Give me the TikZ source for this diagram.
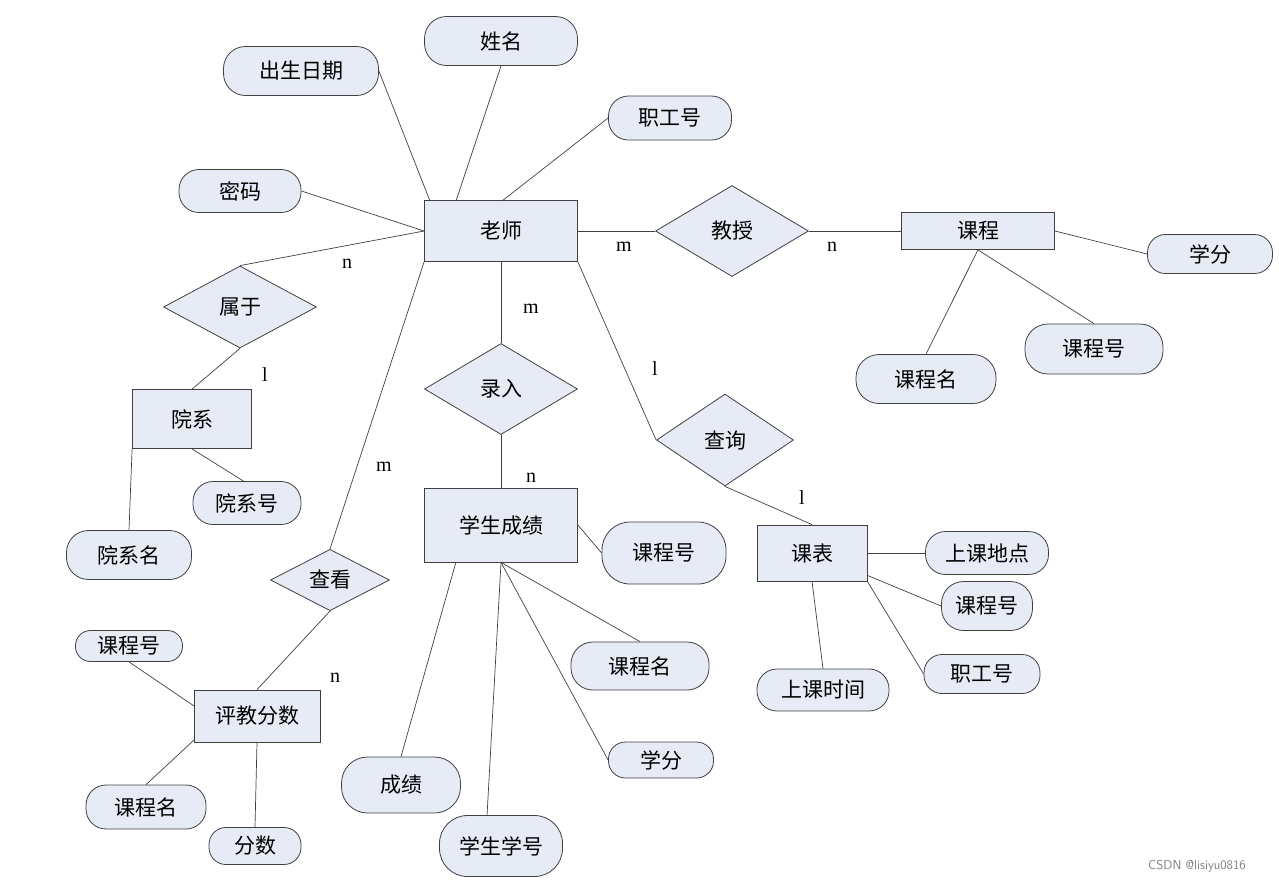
\documentclass[tikz,border=0pt]{standalone}
\usepackage{fontspec}
\setmainfont{Liberation Serif}
\newfontfamily\cjk{Noto Sans CJK SC}
\usetikzlibrary{shapes.geometric}
\definecolor{fillc}{HTML}{E6EBF5}
\definecolor{linec}{HTML}{404040}
\begin{document}
\begin{tikzpicture}[x=1pt,y=-1pt,
  every node/.style={font=\cjk\fontsize{21}{24}\selectfont, inner sep=0pt},
  ent/.style={draw=linec, fill=fillc, rectangle, line width=0.8pt},
  rel/.style={draw=linec, fill=fillc, diamond, line width=0.8pt},
  att/.style={draw=linec, fill=fillc, rectangle, rounded corners=17pt, line width=0.8pt},
  lab/.style={font=\fontsize{20}{23}\selectfont},
  ln/.style={draw=linec, line width=0.7pt}]
\useasboundingbox (0,0) rectangle (1279,884);
% entities
\node[ent,minimum width=153,minimum height=61] (ls) at (501,231) {老师};
\node[ent,minimum width=153,minimum height=37] (kc) at (978,231) {课程};
\node[ent,minimum width=119,minimum height=59] (yx) at (192,419) {院系};
\node[ent,minimum width=153,minimum height=74] (xscj) at (501,525) {学生成绩};
\node[ent,minimum width=110,minimum height=56] (kb) at (812,553) {课表};
\node[ent,minimum width=126,minimum height=52] (pj) at (257,716) {评教分数};
% relations
\node[rel,minimum width=153,minimum height=91] (js) at (732,231) {教授};
\node[rel,minimum width=153,minimum height=82] (sy) at (240,307) {属于};
\node[rel,minimum width=153,minimum height=91] (lr) at (501,389) {录入};
\node[rel,minimum width=137,minimum height=92] (cx) at (725,440) {查询};
\node[rel,minimum width=119,minimum height=61] (ck) at (330,580) {查看};
% attributes
\node[att,minimum width=153,minimum height=49,rounded corners=22pt] (xm) at (501,41) {姓名};
\node[att,minimum width=155,minimum height=49,rounded corners=22pt] (csrq) at (301,71) {出生日期};
\node[att,minimum width=123,minimum height=44,rounded corners=20pt] (zgh1) at (670,118) {职工号};
\node[att,minimum width=122,minimum height=43,rounded corners=20pt] (mm) at (240,191) {密码};
\node[att,minimum width=125,minimum height=39,rounded corners=18pt] (xf1) at (1210,254) {学分};
\node[att,minimum width=138,minimum height=50,rounded corners=23pt] (kch1) at (1094,349) {课程号};
\node[att,minimum width=140,minimum height=49,rounded corners=23pt] (kcm1) at (926,379) {课程名};
\node[att,minimum width=108,minimum height=43,rounded corners=20pt] (yxh) at (247,503) {院系号};
\node[att,minimum width=125,minimum height=49,rounded corners=22pt] (yxm) at (129,555) {院系名};
\node[att,minimum width=124,minimum height=62,rounded corners=28pt] (kch2) at (664,553) {课程号};
\node[att,minimum width=138,minimum height=48,rounded corners=22pt] (kcm2) at (640,666) {课程名};
\node[att,minimum width=105,minimum height=36,rounded corners=17pt] (xf2) at (661,760) {学分};
\node[att,minimum width=119,minimum height=56,rounded corners=26pt] (cj) at (401,785) {成绩};
\node[att,minimum width=123,minimum height=61,rounded corners=28pt] (xsxh) at (501,846) {学生学号};
\node[att,minimum width=123,minimum height=43,rounded corners=20pt] (skdd) at (987,553) {上课地点};
\node[att,minimum width=91,minimum height=49,rounded corners=22pt] (kch3) at (987,606) {课程号};
\node[att,minimum width=116,minimum height=39,rounded corners=18pt] (zgh2) at (982,674) {职工号};
\node[att,minimum width=132,minimum height=42,rounded corners=20pt] (sksj) at (823,690) {上课时间};
\node[att,minimum width=107,minimum height=31,rounded corners=15pt] (kch4) at (129,646) {课程号};
\node[att,minimum width=120,minimum height=44,rounded corners=20pt] (kcm4) at (146,807) {课程名};
\node[att,minimum width=92,minimum height=37,rounded corners=17pt] (fs) at (255,846) {分数};
% connectors
\coordinate (a1) at (430,201); \coordinate (a2) at (456,201); \coordinate (a3) at (502,201);
\draw[ln] (csrq.east) -- (a1);
\draw[ln] (xm.south) -- (a2);
\draw[ln] (zgh1.west) -- (a3);
\draw[ln] (mm.east) -- (ls.west);
\draw[ln] (ls.west) -- (sy.north);
\draw[ln] (sy.south) -- (yx.north);
\coordinate (d1) at (245,482);
\draw[ln] (yx.south) -- (d1);
\draw[ln] (yx.south west) -- (yxm.north);
\draw[ln] (ls.east) -- (js.west);
\draw[ln] (js.east) -- (kc.west);
\draw[ln] (kc.east) -- (xf1.west);
\draw[ln] (kc.south) -- (kcm1.north);
\draw[ln] (kc.south) -- (kch1.north);
\draw[ln] (ls.south) -- (lr.north);
\draw[ln] (lr.south) -- (xscj.north);
\draw[ln] (ls.south east) -- (cx.west);
\draw[ln] (cx.south) -- (kb.north);
\draw[ln] (ls.south west) -- (ck.north);
\draw[ln] (ck.south) -- (pj.north);
\draw[ln] (xscj.east) -- (kch2.west);
\draw[ln] (xscj.south) -- (kcm2.north);
\draw[ln] (xscj.south) -- (xf2.west);
\coordinate (e1) at (487,816);
\draw[ln] (xscj.south) -- (e1);
\coordinate (b1) at (456,562);
\draw[ln] (b1) -- (cj.north);
\draw[ln] (kb.east) -- (skdd.west);
\draw[ln] (kb.south east) ++(0,-6) -- (kch3.west);
\draw[ln] (kb.south east) -- (zgh2.west);
\draw[ln] (kb.south) -- (sksj.north);
\coordinate (c1) at (194,706); \coordinate (c2) at (194,740);
\draw[ln] (c1) -- (kch4.south);
\draw[ln] (c2) -- (kcm4.north);
\draw[ln] (pj.south) -- (fs.north);
% cardinalities
\node[lab] (l1) at (347,264) {n};
\node[lab] (l2) at (265,375) {l};
\node[lab] (l3) at (624,247) {m};
\node[lab] (l4) at (832,247) {n};
\node[lab] (l5) at (531,309) {m};
\node[lab] (l6) at (531,478) {n};
\node[lab] (l7) at (655,369) {l};
\node[lab] (l8) at (802,498) {l};
\node[lab] (l9) at (384,467) {m};
\node[lab] (l10) at (335,678) {n};
\node[font=\sffamily\fontsize{13}{15}\selectfont, text=gray] (wm) at (1197,866) {CSDN @lisiyu0816};
\end{tikzpicture}
\end{document}
